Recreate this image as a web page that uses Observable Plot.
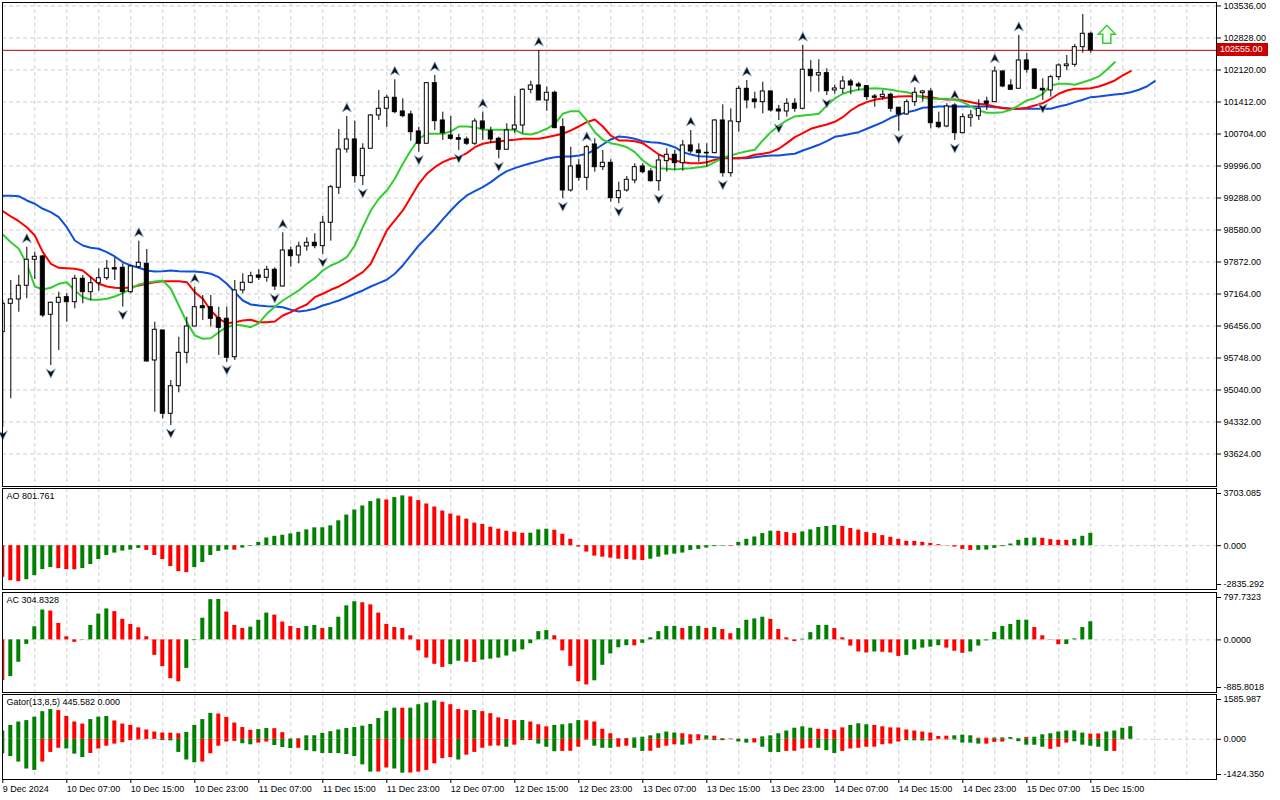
<!DOCTYPE html>
<html><head><meta charset="utf-8">
<script src="https://cdn.jsdelivr.net/npm/d3@7"></script>
<script src="https://cdn.jsdelivr.net/npm/@observablehq/plot@0.6"></script>
<style>
html,body{margin:0;padding:0;background:#fff;}
#chart{position:relative;width:1280px;height:800px;overflow:hidden;font-family:"Liberation Sans",Arial,sans-serif;background:#fff;}
#chart .panel{position:absolute;left:0;}
#chart .plabel{position:absolute;left:1217px;width:51px;height:13px;background:#cc0000;color:#fff;font-size:9px;line-height:13px;padding-left:3px;box-sizing:border-box;}
</style></head><body><div id="chart"></div>
<script>
// ---------------- data (hourly bars, bar 0 = 9 Dec 2024 23:00) ----------------
const opens = [96319,96947,97043,97346,97921,97994,96704,96970,97093,96983,97501,97204,97403,97514,97735,97744,97204,97757,97832,95693,96357,94514,95124,95863,96445,96894,96872,96629,96616,95766,97242,97412,97574,97523,97700,97330,98127,98016,98215,98297,98222,98740,99514,100361,100583,99771,100377,101114,101262,101505,101202,101136,100760,100488,101828,101003,100671,100611,100583,100488,100981,100766,100598,100355,100804,100892,101682,101777,101446,101616,100855,99454,100007,99735,100472,99970,100067,99284,99454,99676,99985,99875,99660,100103,100244,100058,100450,100339,100288,100280,101003,99837,100965,101704,101468,101408,101645,101246,101202,101373,101262,102125,101999,102050,101667,101704,101866,101800,101762,101534,101519,101572,101284,101136,101408,101607,101645,100952,100870,101335,100722,101063,101098,101423,101408,102087,101777,101704,102331,102131,101704,101667,101961,102204,102235,102625,102921];
const highs = [97020,97463,97574,98200,98089,98016,96983,97204,97169,97574,97574,97536,97722,97906,97965,97832,97795,98332,98149,96540,96357,95250,96208,96651,97315,97131,97131,96872,96872,97463,97611,97647,97700,97773,97744,98518,98200,98310,98408,98496,98879,99565,100804,101092,100988,100488,101136,101667,101556,101904,101483,101209,100855,101828,101999,101187,101092,100693,100634,101041,101187,100855,100634,100930,101534,101704,101873,102552,101740,101651,101041,100412,100134,100450,100598,100339,100134,99638,99764,100045,100045,99934,100229,100377,100339,100561,100782,100488,100488,101019,101350,101262,101762,101888,101629,101850,101651,101335,101483,101483,102662,102331,102346,102147,101788,101977,101910,101850,101777,101578,101667,101607,101297,101461,101727,101667,101704,101187,101373,101373,101151,101224,101461,101519,102182,102109,101904,102884,102479,102147,101926,101999,102258,102441,102685,103348,102957];
const lows = [94211,94846,96762,97058,97485,96644,95582,95914,96540,96837,96947,97020,97226,97463,97463,96872,97169,97722,95655,94549,94403,94255,94978,95620,96430,96578,96430,95804,95655,95693,97169,97390,97463,97425,97242,97315,97757,97832,98111,98164,98038,98332,99366,100280,99616,99565,100377,101003,100842,101151,101063,100545,100302,100488,100782,100561,100561,100339,100450,100450,100561,100488,100156,100355,100709,100709,101594,101446,101209,100819,99271,99417,99660,99454,99859,99897,99195,99160,99417,99603,99824,99638,99439,99859,99897,99881,100266,100080,99970,100266,99749,99749,100744,101262,101262,101151,101187,101003,101076,101187,101240,101629,101629,101556,101589,101594,101572,101667,101446,101297,101446,101187,100766,101114,101313,101408,100819,100819,100842,100561,100709,100855,101003,101224,101408,101727,101667,101704,102050,101682,101446,101519,101888,102109,102182,102492,102492];
const closes = [96947,97043,97346,97921,97987,96689,96970,97080,96983,97501,97204,97403,97514,97722,97706,97204,97773,97855,95671,96372,94514,95124,95863,96445,96872,96850,96616,96416,95753,97242,97412,97558,97523,97700,97330,98127,98001,98215,98297,98222,98740,99527,100361,100583,99771,100377,101114,101262,101505,101187,101098,100744,100488,101828,100988,100722,100598,100576,100488,100981,100819,100583,100355,100782,100892,101682,101777,101446,101616,100833,99454,99985,99735,100412,99970,100067,99284,99439,99691,99970,99859,99660,100118,100244,100058,100450,100317,100280,100273,101003,99837,100981,101704,101446,101408,101645,101224,101202,101373,101262,102125,101983,102050,101651,101711,101866,101777,101755,101519,101505,101572,101262,101136,101408,101616,101645,100943,100855,101313,100722,101076,101114,101262,101373,102087,101755,101682,102331,102125,101704,101667,101961,102220,102242,102625,102921,102555];

// Alligator lines as drawn (already shifted forward: jaws +8, teeth +5, lips +3 bars)
const jaws = [99337,99337,99328,99233,99160,99049,98974,98863,98642,98348,98237,98186,98164,98089,97994,97868,97795,97744,97684,97662,97669,97684,97669,97662,97662,97647,97611,97536,97390,97204,97020,96932,96910,96894,96888,96872,96815,96777,96799,96837,96910,96961,97020,97093,97169,97242,97330,97403,97479,97611,97795,98016,98237,98421,98607,98813,99012,99195,99344,99439,99527,99638,99771,99881,99948,100007,100058,100103,100156,100191,100207,100207,100229,100266,100355,100472,100583,100649,100634,100598,100545,100523,100510,100472,100412,100302,100251,100213,100207,100191,100178,100169,100169,100169,100191,100213,100229,100229,100251,100266,100339,100399,100465,100545,100642,100671,100709,100744,100819,100892,100965,101063,101129,101187,101224,101284,101297,101313,101313,101313,101313,101313,101313,101313,101297,101284,101262,101262,101262,101262,101262,101262,101313,101350,101408,101461,101519,101534,101556,101578,101594,101629,101682,101755,101873];
const teeth = [98996,98879,98775,98642,98459,98089,97832,97744,97735,97722,97684,97536,97390,97330,97302,97293,97315,97352,97390,97425,97448,97448,97448,97425,97204,97058,96799,96616,96518,96540,96578,96594,96540,96540,96556,96689,96762,96850,96932,97093,97169,97257,97330,97425,97536,97647,97832,98200,98569,98790,99012,99306,99603,99824,99970,100080,100156,100191,100280,100412,100488,100523,100538,100561,100576,100598,100598,100598,100634,100671,100709,100782,100870,100965,101025,100870,100671,100561,100561,100545,100501,100377,100251,100178,100118,100080,100058,100058,100080,100134,100169,100169,100169,100191,100244,100266,100302,100377,100501,100634,100722,100819,100870,100915,100974,101076,101224,101335,101408,101461,101496,101519,101534,101541,101541,101534,101519,101483,101468,101468,101446,101408,101373,101350,101313,101275,101262,101262,101284,101335,101386,101483,101594,101667,101704,101704,101718,101755,101815,101888,101999,102094];
const lips = [98481,98310,98164,97832,97330,97264,97302,97390,97425,97242,97093,97036,97036,97058,97109,97182,97279,97375,97412,97441,97463,97279,96910,96540,96246,96173,96186,96319,96430,96483,96467,96430,96518,96726,96881,97020,97131,97242,97390,97514,97684,97795,97868,97979,98237,98642,99012,99271,99454,99713,100045,100339,100598,100709,100709,100709,100760,100870,100870,100855,100797,100797,100797,100797,100797,100709,100693,100744,100819,100930,101151,101209,101209,101003,100744,100576,100501,100465,100412,100302,100118,99992,99948,99934,99919,99934,99948,99970,99992,100080,100178,100229,100280,100324,100355,100561,100744,100892,101003,101092,101114,101129,101151,101335,101490,101594,101651,101682,101704,101718,101704,101682,101651,101629,101578,101505,101483,101483,101483,101468,101408,101313,101224,101173,101173,101187,101240,101335,101446,101496,101594,101777,101815,101815,101793,101850,101904,101977,102125,102293];

const upFractalBars = [3,17,24,35,43,49,54,60,67,73,86,93,100,114,119,124,127];
const downFractalBars = [0,6,15,21,28,34,40,45,52,57,62,70,77,82,90,97,103,112,119,130];
const signalBar = 138, signalPrice = 102910;
const currentPrice = 102555;
const priceTicks = [103536,102828,102120,101412,100704,99996,99288,98580,97872,97164,96456,95748,95040,94332,93624];

const ao = [-2048,-2266,-2332,-2201,-1939,-1547,-1416,-1482,-1547,-1560,-1482,-1220,-893,-632,-479,-349,-283,-174,-305,-632,-893,-1351,-1678,-1743,-1416,-1090,-632,-370,-283,-290,-153,-44,218,501,610,675,763,872,1024,1155,1160,1286,1612,1983,2310,2571,2854,3029,2963,3116,3225,3160,2920,2702,2506,2244,2048,1918,1721,1460,1373,1198,1068,937,872,806,810,1024,1068,1002,741,414,-87,-414,-675,-741,-806,-872,-893,-937,-959,-872,-741,-610,-545,-479,-305,-240,-153,-60,-35,-40,218,414,566,784,937,930,850,784,893,1024,1177,1242,1307,1242,1111,1010,850,784,654,545,414,283,280,218,153,65,-20,-87,-240,-305,-300,-283,-174,-60,109,349,479,501,479,392,349,345,414,610,801.761];
const ac = [-683,-619,-376,-75,220,503,486,278,52,-41,-5,243,434,521,475,347,260,203,52,-260,-451,-654,-706,-480,-12,365,677,680,469,243,191,214,330,451,417,301,226,191,226,243,191,208,382,573,642,625,590,451,260,208,191,69,-185,-307,-411,-463,-417,-359,-376,-380,-341,-324,-307,-272,-203,-168,-64,139,156,69,-185,-446,-706,-758,-689,-428,-237,-133,-98,-100,-58,35,139,226,228,191,226,228,191,208,174,104,191,330,353,382,347,174,35,-29,12,122,243,245,191,35,-104,-203,-220,-203,-208,-220,-278,-260,-168,-139,-122,-98,-139,-191,-226,-203,-104,-17,127,226,260,330,332,208,69,-5,-81,-78,17,208,304.8328];
const gatorUp = [294,490,612,661,783,979,1053,1016,808,612,539,698,783,808,649,539,490,404,330,257,220,215,196,245,490,698,918,894,771,575,416,318,343,380,375,233,12,24,122,125,208,269,330,380,416,465,526,734,991,1102,1100,1102,1224,1285,1359,1310,1224,1053,1016,1020,979,906,759,698,661,665,612,514,441,490,514,551,661,655,612,355,196,24,30,49,73,122,196,257,220,196,159,160,122,110,24,12,5,0,24,86,122,196,294,392,441,392,355,350,318,404,490,551,514,490,441,404,400,330,294,257,220,100,110,122,147,122,37,40,45,50,61,24,61,73,159,196,257,294,296,220,184,190,257,294,392,445.582];
const gatorUpColor = "GGGGGGGRRRRGGGRRRRRRRRRGGGGRRRRRGGRRRGGGGGGGGGGGGGRGGGGRRRRGRRRRRGRRRGGGGRRRRRGGGGGGGRRRGRRRRRRGGGGGGGRRRRGGGRRRRRRRRRRGGGRRGGGGRGGGGGGGRRGGGGG";
const gatorDown = [-514,-612,-808,-1053,-1102,-808,-465,-318,-343,-526,-649,-502,-343,-245,-171,-122,-49,-24,-12,-5,-49,-55,-465,-734,-832,-808,-514,-245,-98,-73,-159,-196,-135,-98,-220,-294,-330,-318,-404,-441,-502,-505,-508,-539,-612,-906,-1163,-1160,-1016,-1053,-1200,-1195,-1163,-1102,-869,-685,-649,-734,-563,-465,-318,-245,-240,-282,-208,-49,-45,-171,-282,-441,-428,-425,-282,-30,-245,-318,-320,-282,-245,-318,-428,-425,-318,-245,-196,-208,-171,-49,-24,-49,-50,-12,-98,-135,-130,-282,-465,-470,-428,-425,-343,-318,-320,-404,-502,-428,-343,-318,-282,-280,-196,-171,-98,-49,-55,-60,-62,-12,-24,-24,-135,-137,-171,-172,-110,-98,-5,-86,-208,-210,-282,-355,-282,-135,-86,-208,-245,-282,-428,-430,-24];
const gatorDownColor = "GGGGGRRRGGGRRRRRRRRRGGGGGRRRRRGGRRGGGRGGGGGGGGGRRGGRRRRRRGRRRRRGRRRGGGRRRRGGGRRGGRRRRGRRRGGRGGRGGGRRRRGGGRRRRRRRRGGGRRRGGGGRRRGGGGGRRRGGGGGR";

const aoLabel = "AO 801.761", acLabel = "AC 304.8328", gatorLabel = "Gator(13,8,5) 445.582 0.000";
const aoRange = [-2835.292, 3703.085], acRange = [-885.8018, 797.7323], gatorRange = [-1424.350, 1585.987];
const xLabelBars = [0,8,16,24,32,40,48,56,64,72,80,88,96,104,112,120,128,136];
const xLabels = ["9 Dec 2024","10 Dec 07:00","10 Dec 15:00","10 Dec 23:00","11 Dec 07:00","11 Dec 15:00","11 Dec 23:00","12 Dec 07:00","12 Dec 15:00","12 Dec 23:00","13 Dec 07:00","13 Dec 15:00","13 Dec 23:00","14 Dec 07:00","14 Dec 15:00","14 Dec 23:00","15 Dec 07:00","15 Dec 15:00"];

// ---------------- layout / style ----------------
const W = 1280, plotLeft = 2, plotRight = 1216, barStep = 8, firstBarX = 2.3;
const xDomain = [(plotLeft - firstBarX) / barStep, (plotRight - firstBarX) / barStep];
const gridBars = d3.range(4, 152, 4);
const gridColor = "#cfcfcf", dash = "4,3";
const GREEN = "#008000", RED = "#ff0000";
const font = {fontFamily: '"Liberation Sans", Arial, sans-serif', fontSize: "9px", color: "#000", background: "transparent", overflow: "visible"};
const mainYDomain = [92905, 103613];

const candles = opens.map((o, i) => ({i, o, h: highs[i], l: lows[i], c: closes[i]}));
const upFr = upFractalBars.map(i => ({i, v: highs[i]}));
const dnFr = downFractalBars.map(i => ({i, v: lows[i]}));

const fractalUp = {draw(c, s) {const r = Math.sqrt(s / Math.PI); c.moveTo(0, -r); c.lineTo(r, r); c.lineTo(0, r * 0.4); c.lineTo(-r, r); c.closePath();}};
const fractalDown = {draw(c, s) {const r = Math.sqrt(s / Math.PI); c.moveTo(0, r); c.lineTo(r, -r); c.lineTo(0, -r * 0.4); c.lineTo(-r, -r); c.closePath();}};
const blockArrow = {draw(c, s) {const r = Math.sqrt(s / Math.PI);
  c.moveTo(0, -r); c.lineTo(r * 0.95, 0); c.lineTo(r * 0.45, 0); c.lineTo(r * 0.45, r);
  c.lineTo(-r * 0.45, r); c.lineTo(-r * 0.45, 0); c.lineTo(-r * 0.95, 0); c.closePath();}};

const chart = document.getElementById("chart");
function place(svg, top) {
  const d = document.createElement("div"); d.className = "panel"; d.style.top = top + "px";
  d.appendChild(svg); chart.appendChild(d); return svg;
}

// ---------------- main price panel ----------------
const mainPlot = Plot.plot({
  width: W, height: 487, marginLeft: plotLeft, marginRight: W - plotRight, marginTop: 2, marginBottom: 1,
  style: font,
  x: {domain: xDomain, axis: null},
  y: {domain: mainYDomain, axis: null},
  color: {type: "identity"},
  marks: [
    Plot.ruleX(gridBars, {stroke: gridColor, strokeDasharray: dash}),
    Plot.ruleY(priceTicks, {stroke: gridColor, strokeDasharray: dash}),
    Plot.ruleY([currentPrice], {stroke: "#b40000", strokeWidth: 1}),
    Plot.lineY(jaws, {x: (d, i) => i, stroke: "#1150d8", strokeWidth: 2, clip: true}),
    Plot.lineY(teeth, {x: (d, i) => i, stroke: "#ff0000", strokeWidth: 2, clip: true}),
    Plot.lineY(lips, {x: (d, i) => i, stroke: "#32cd32", strokeWidth: 2, clip: true}),
    Plot.ruleX(candles, {x: "i", y1: "l", y2: "h", stroke: "#000", strokeWidth: 1, clip: true}),
    Plot.rect(candles, {x1: d => d.i - 0.25, x2: d => d.i + 0.25, y1: "o", y2: "c",
      fill: d => d.c >= d.o ? "#fff" : "#000", stroke: "#000", strokeWidth: 1, clip: true}),
    Plot.dot(upFr, {x: "i", y: "v", symbol: fractalUp, r: 4.6, fill: "#111", stroke: "#8fb4dc", strokeWidth: 0.7, dy: -9}),
    Plot.dot(dnFr, {x: "i", y: "v", symbol: fractalDown, r: 4.6, fill: "#111", stroke: "#8fb4dc", strokeWidth: 0.7, dy: 8}),
    Plot.dot([{i: signalBar, v: signalPrice}], {x: "i", y: "v", symbol: blockArrow, r: 9, fill: "#f4fff4", stroke: "#3ccc3c", strokeWidth: 1.5}),
    Plot.axisY({anchor: "right", ticks: priceTicks, tickFormat: d => d.toFixed(2), tickSize: 4, tickPadding: 3, label: null}),
    Plot.frame({stroke: "#000"})
  ]
});
place(mainPlot, 0);
const lab = document.createElement("div");
lab.className = "plabel"; lab.textContent = currentPrice.toFixed(2);
lab.style.top = (mainPlot.scale("y").apply(currentPrice) - 6.5) + "px";
chart.appendChild(lab);

// ---------------- oscillator panels ----------------
function colorByChange(arr) { return arr.map((v, i) => (i > 0 && v > arr[i - 1]) ? GREEN : RED); }
function oscPanel(values, colors, range, label, digits, top, height, mb, extra = []) {
  const bars = values.map((v, i) => ({i, v, c: colors[i]}));
  const p = Plot.plot({
    width: W, height, marginLeft: plotLeft, marginRight: W - plotRight, marginTop: 1, marginBottom: mb,
    style: font,
    x: {domain: xDomain, axis: null, label: null},
    y: {domain: range, axis: null, label: null},
    color: {type: "identity"},
    marks: [
      Plot.ruleX(gridBars, {stroke: gridColor, strokeDasharray: dash}),
      Plot.ruleY([0], {stroke: gridColor, strokeDasharray: dash}),
      ...extra,
      Plot.rect(bars, {x1: d => d.i - 0.25, x2: d => d.i + 0.25, y1: 0, y2: "v", fill: "c", clip: true}),
      Plot.axisY({anchor: "right", ticks: [range[1]], tickFormat: d => d.toFixed(digits), tickSize: 4, tickPadding: 3, dy: 5, label: null}),
      Plot.axisY({anchor: "right", ticks: [0], tickFormat: d => d.toFixed(digits), tickSize: 4, tickPadding: 3, label: null}),
      Plot.axisY({anchor: "right", ticks: [range[0]], tickFormat: d => d.toFixed(digits), tickSize: 4, tickPadding: 3, dy: -5, label: null}),
      Plot.text([label], {frameAnchor: "top-left", dx: 4, dy: 4, lineAnchor: "top", textAnchor: "start", fill: "#000"}),
      Plot.frame({stroke: "#000"})
    ]
  });
  return place(p, top);
}

oscPanel(ao, colorByChange(ao), aoRange, aoLabel, 3, 487, 103, 1);
oscPanel(ac, colorByChange(ac), acRange, acLabel, 4, 591, 102, 1);

const gDown = gatorDown.map((v, i) => ({i, v, c: gatorDownColor[i] === "G" ? GREEN : RED}));
const xLabelMap = new Map(xLabelBars.map((b, j) => [b, xLabels[j]]));
oscPanel(gatorUp, gatorUpColor.split("").map(ch => ch === "G" ? GREEN : RED), gatorRange, gatorLabel, 3, 693, 107, 21, [
  Plot.rect(gDown, {x1: d => d.i - 0.25, x2: d => d.i + 0.25, y1: 0, y2: "v", fill: "c", clip: true}),
  Plot.axisX({anchor: "bottom", ticks: xLabelBars, tickFormat: d => xLabelMap.get(d), tickSize: 4, tickPadding: 2, textAnchor: "start", label: null})
]);
</script></body></html>
